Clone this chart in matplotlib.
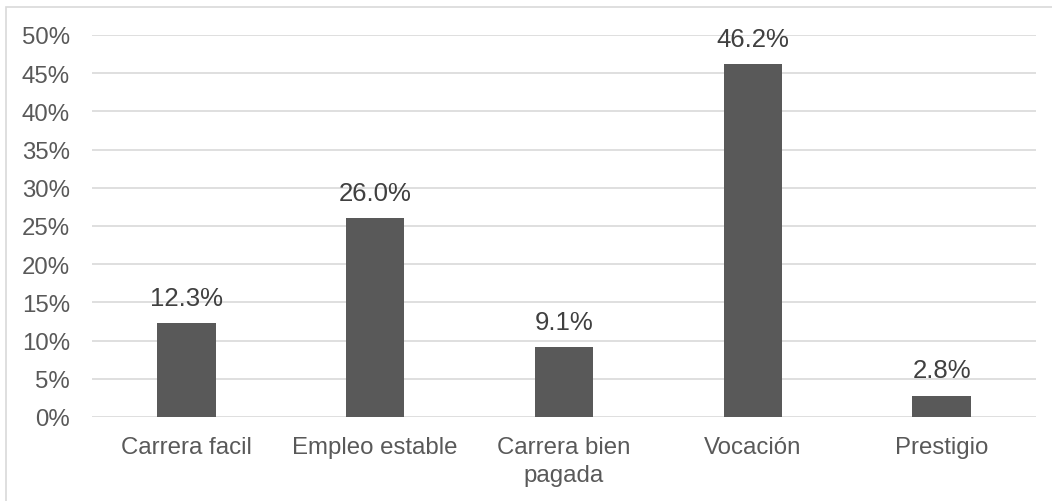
import matplotlib
matplotlib.use("Agg")
import matplotlib.pyplot as plt
from matplotlib.patches import Rectangle

categories = ["Carrera facil", "Empleo estable", "Carrera bien\npagada", "Vocación", "Prestigio"]
values = [12.3, 26.0, 9.1, 46.2, 2.8]
yticks = [0, 5, 10, 15, 20, 25, 30, 35, 40, 45, 50]
ytick_labels = [f"{t}%" for t in yticks]

plt.rcParams['font.family'] = ['Liberation Sans', 'DejaVu Sans']

W, H = 1052, 502
fig = plt.figure(figsize=(W/100, H/100), dpi=100)
fig.patch.set_facecolor('white')

# outer border (partially cropped on right and bottom)
fig.add_artist(Rectangle((5.5/W, -0.1), 1.2, (H - 7.5)/H + 0.1, transform=fig.transFigure,
                         fill=False, edgecolor='#d9d9d9', linewidth=1.2))

x0, x1 = 92, 1036
y0, y1 = 418, 36
ax = fig.add_axes([x0/W, 1 - y0/H, (x1 - x0)/W, (y0 - y1)/H])
ax.set_facecolor('none')

xs = range(len(categories))
ax.bar(xs, values, width=0.31, color='#595959', zorder=3)
for x, v in zip(xs, values):
    ax.annotate(f"{v:.1f}%", (x, v), xytext=(0, 9.5), textcoords='offset points',
                ha='center', va='bottom', fontsize=18.5, color='#404040', zorder=4)

ax.set_xlim(-0.5, len(categories) - 0.5)
ax.set_ylim(0, 50)
ax.set_yticks(yticks)
ax.set_yticklabels(ytick_labels)
ax.set_xticks(list(xs))
ax.set_xticklabels(categories, linespacing=1.32)
ax.yaxis.grid(True, color='#d9d9d9', linewidth=1.2, zorder=0)
for s in ax.spines.values():
    s.set_visible(False)
ax.tick_params(axis='both', length=0, labelsize=17.3, labelcolor='#595959')
ax.tick_params(axis='y', pad=16)
ax.tick_params(axis='x', pad=14)
for lbl in ax.get_yticklabels():
    lbl.set_horizontalalignment('right')

fig.savefig('out.png', dpi=100)
